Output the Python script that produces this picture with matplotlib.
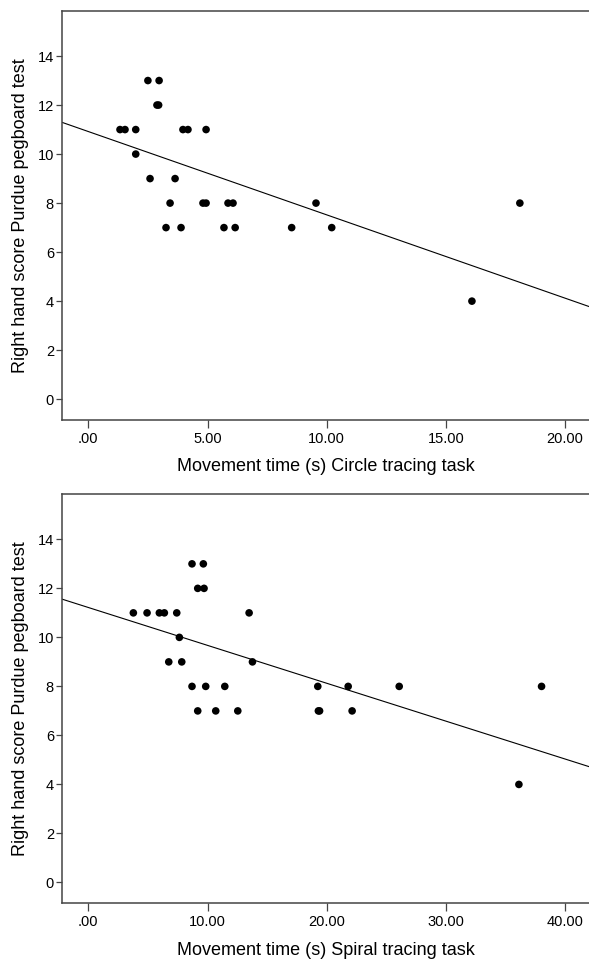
import numpy as np
import matplotlib
matplotlib.use("Agg")
import matplotlib.pyplot as plt

plt.rcParams['font.family'] = ['Liberation Sans', 'DejaVu Sans']

# circle tracing task: movement time (s) vs right hand Purdue score
circle_time = [1.33, 1.54, 1.99, 1.99, 2.50, 2.59, 2.88, 2.95, 2.97, 3.26, 3.43, 3.64,
               3.89, 3.97, 4.18, 4.81, 4.94, 4.94, 5.69, 5.86, 6.07, 6.16, 8.53,
               9.55, 10.21, 16.09, 18.10]
circle_score = [11, 11, 11, 10, 13, 9, 12, 12, 13, 7, 8, 9,
                7, 11, 11, 8, 8, 11, 7, 8, 8, 7, 7,
                8, 7, 4, 8]
circle_fit = (10.92, -0.340)  # intercept, slope

# spiral tracing task
spiral_time = [3.78, 4.93, 5.96, 6.38, 6.75, 7.42, 7.64, 7.84, 8.70, 8.70, 9.18, 9.18,
               9.65, 9.71, 9.85, 10.69, 11.45, 12.54, 13.49, 13.77, 19.25, 19.30,
               19.40, 21.80, 22.13, 26.08, 36.12, 38.02]
spiral_score = [11, 11, 11, 11, 9, 11, 10, 9, 13, 8, 12, 7,
                13, 12, 8, 7, 8, 7, 11, 9, 8, 7,
                7, 8, 7, 8, 4, 8]
spiral_fit = (11.22, -0.1546)

circle_ticks = [0, 5, 10, 15, 20]
circle_ticklabels = ['.00', '5.00', '10.00', '15.00', '20.00']
spiral_ticks = [0, 10, 20, 30, 40]
spiral_ticklabels = ['.00', '10.00', '20.00', '30.00', '40.00']
y_ticks = [0, 2, 4, 6, 8, 10, 12, 14]

fig = plt.figure(figsize=(5.89, 9.6), dpi=100)
ax1 = fig.add_axes([62.3/589, 1-420/960, 1-62.3/589, (420-10.7)/960])
ax2 = fig.add_axes([62.3/589, 1-903.3/960, 1-62.3/589, (903.3-494)/960])

panels = [
    (ax1, circle_time, circle_score, circle_fit, (-1.09, 21.0), circle_ticks, circle_ticklabels,
     'Movement time (s) Circle tracing task'),
    (ax2, spiral_time, spiral_score, spiral_fit, (-2.18, 42.0), spiral_ticks, spiral_ticklabels,
     'Movement time (s) Spiral tracing task'),
]

for ax, xs, ys, fit, xlim, xt, xtl, xlabel in panels:
    ax.scatter(xs, ys, s=30, color='black', edgecolors='none', zorder=3)
    lx = np.array(xlim)
    ax.plot(lx, fit[0] + fit[1]*lx, color='black', lw=0.8)
    ax.set_xlim(xlim)
    ax.set_ylim(-0.85, 15.85)
    ax.set_xticks(xt)
    ax.set_xticklabels(xtl)
    ax.set_yticks(y_ticks)
    ax.spines['right'].set_visible(False)
    for s in ['left', 'bottom', 'top']:
        ax.spines[s].set_color('#444444')
        ax.spines[s].set_linewidth(1.1)
    ax.tick_params(axis='x', direction='out', length=5.5, width=0.9, color='#444444',
                   labelsize=10.5, pad=3)
    ax.tick_params(axis='y', direction='out', length=4, width=0.9, color='#444444',
                   labelsize=10.5, pad=2)
    ax.set_xlabel(xlabel, fontsize=13, labelpad=9)
    ax.set_ylabel('Right hand score Purdue pegboard test', fontsize=13, labelpad=6)

fig.savefig('out.png', dpi=100)
